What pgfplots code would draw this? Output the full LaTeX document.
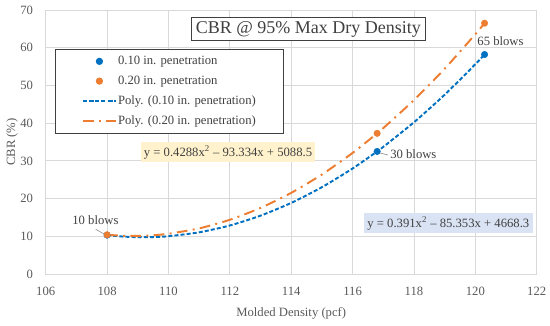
\documentclass[border=0pt]{standalone}
\usepackage{fontspec}
\setmainfont{Liberation Serif}
\usepackage{pgfplots}
\pgfplotsset{compat=1.18}
\definecolor{cblue}{RGB}{0,112,192}
\definecolor{corange}{RGB}{237,125,49}
\definecolor{tickc}{RGB}{89,89,89}
\definecolor{txtc}{RGB}{64,64,64}
\definecolor{gridc}{RGB}{217,217,217}
\definecolor{yel}{RGB}{255,242,204}
\definecolor{lblue}{RGB}{218,227,243}
\begin{document}
\begin{tikzpicture}
\useasboundingbox (0,0) rectangle (412.5pt,243.75pt);
\begin{axis}[at={(34.3pt,38.25pt)}, anchor=south west, scale only axis,
  width=368.25pt, height=198pt,
  xmin=106, xmax=122, ymin=0, ymax=70,
  xtick={106,108,...,122}, ytick={0,10,...,70},
  grid=major, grid style={gridc, line width=0.6pt},
  axis line style={gridc, line width=0.6pt}, tick style={draw=none},
  ticklabel style={tickc, font=\fontsize{9.5}{10}\selectfont},
  /pgf/number format/assume math mode=true,
  yticklabel style={xshift=-6pt},
  xticklabel style={yshift=-6pt},
  xlabel={Molded Density (pcf)}, ylabel={CBR (\%)},
  label style={tickc, font=\fontsize{9.5}{10}\selectfont},
  xlabel style={at={(axis description cs:0.5,-0.148)}, anchor=center},
  ylabel style={at={(axis description cs:-0.0686,0.5)}, anchor=center},
  legend style={at={(0.019,0.852)}, anchor=north west, draw=txtc, fill=white,
    font=\fontsize{9.5}{10}\selectfont, text=txtc, inner xsep=20pt, inner ysep=3pt,
    row sep=3pt, line width=0.6pt, nodes={inner xsep=1pt}},
  legend cell align=left,
  legend image code/.code={\draw[mark repeat=2,mark phase=2,#1] plot coordinates {(0cm,0cm) (0.43cm,0cm) (0.86cm,0cm)};},
  clip=false,
]
\addplot[only marks, mark=*, mark size=2.4pt, color=cblue] coordinates {(108,10.3) (116.8,32.5) (120.3,58.2)};
\addlegendentry{0.10 in. penetration}
\addplot[only marks, mark=*, mark size=2.4pt, color=corange] coordinates {(108,10.4) (116.8,37.3) (120.3,66.5)};
\addlegendentry{0.20 in. penetration}
\addplot[cblue, line width=1.45pt, dash pattern=on 3pt off 1.6pt, smooth, tension=0.4] coordinates {
(108,10.3) (108.5,9.935) (109,9.766) (109.5,9.793) (110,10.016) (111,11.049) (112,12.866) (113,15.468)
(114,18.852) (115,23.021) (116,27.974) (116.8,32.5) (117,33.709) (118,40.230) (119,47.534) (120,55.620) (120.3,58.2)};
\addlegendentry{Poly. (0.10 in. penetration)}
\addplot[corange, line width=1.45pt, dash pattern=on 8pt off 4pt on 1.5pt off 4pt, smooth, tension=0.4] coordinates {
(108,10.4) (108.5,10.145) (109,10.105) (109.5,10.279) (110,10.669) (111,12.093) (112,14.376) (113,17.519)
(114,21.521) (115,26.383) (116,32.104) (116.8,37.3) (117,38.685) (118,46.125) (119,54.425) (120,63.585) (120.3,66.5)};
\addlegendentry{Poly. (0.20 in. penetration)}
\node[draw=txtc, fill=white, line width=0.7pt, text=txtc, font=\fontsize{13.5}{15}\selectfont, inner xsep=3.4pt, inner ysep=3pt] at (axis cs:114.56,64.97) {CBR @ 95\% Max Dry Density};
\node[fill=yel, text=txtc, font=\fontsize{9.5}{10}\selectfont, inner sep=2.5pt] at (axis cs:111.94,32.35) {y = 0.4288x\textsuperscript{2} – 93.334x + 5088.5};
\node[fill=lblue, text=txtc, font=\fontsize{9.5}{10}\selectfont, inner sep=2.5pt] at (axis cs:119.12,13.52) {y = 0.391x\textsuperscript{2} – 85.353x + 4668.3};
\node[text=txtc, font=\fontsize{9.5}{10}\selectfont, anchor=west, inner sep=0pt] at (axis cs:117.22,31.69) {30 blows};
\node[text=txtc, font=\fontsize{9.5}{10}\selectfont] at (axis cs:120.82,61.65) {65 blows};
\node[text=txtc, font=\fontsize{9.5}{10}\selectfont] at (axis cs:107.62,14.24) {10 blows};
\draw[gray, line width=0.4pt] (axis cs:107.63,11.85) -- (axis cs:107.9,10.6);
\draw[gray, line width=0.4pt] (axis cs:116.89,32.09) -- (axis cs:117.15,31.56);
\end{axis}
\end{tikzpicture}
\end{document}
